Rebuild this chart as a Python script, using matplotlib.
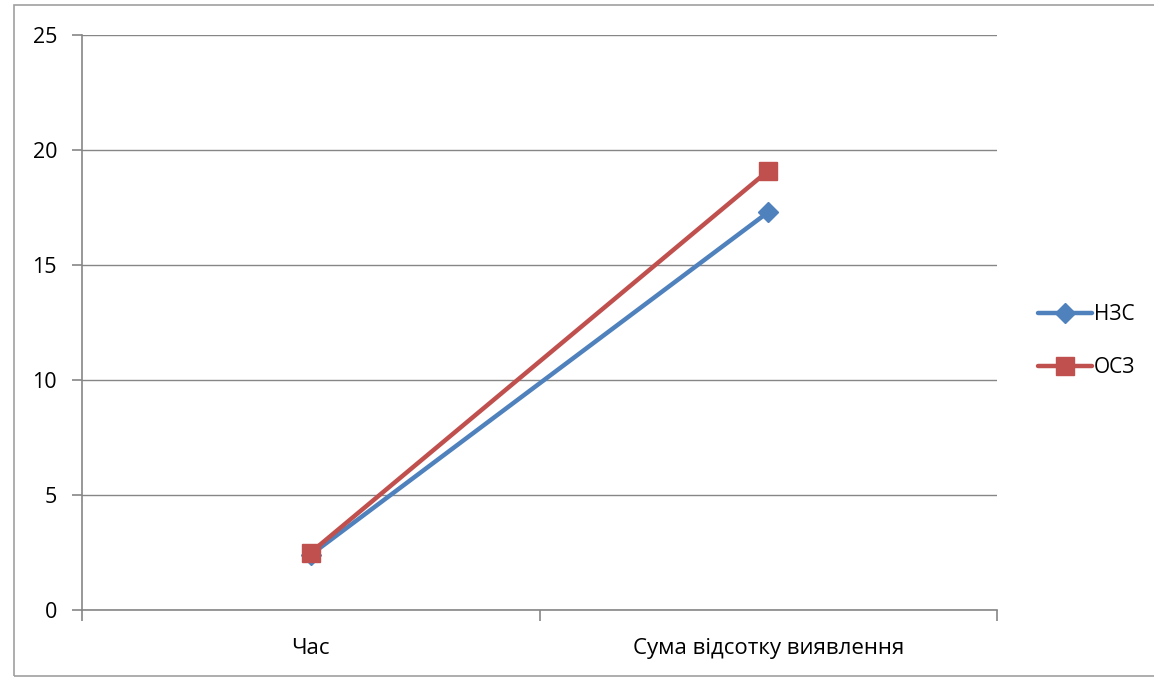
import matplotlib
matplotlib.use('Agg')
import matplotlib.pyplot as plt
from matplotlib.patches import Rectangle

plt.rcParams['font.family'] = ['Open Sans', 'DejaVu Sans']

categories = ['Час', 'Сума відсотку виявлення']
nzs = [2.4, 17.3]
osz = [2.5, 19.1]
series_names = ['НЗС', 'ОСЗ']
y_ticks = [0, 5, 10, 15, 20, 25]

blue = '#4F81BD'
red = '#C0504D'
grid_c = '#868686'

W, H = 1154, 677
fig = plt.figure(figsize=(W / 100, H / 100), dpi=100)
ax = fig.add_axes([82 / W, 1 - 610 / H, (997 - 82) / W, (610 - 35) / H])

x = [0.5, 1.5]
ax.plot(x, nzs, color=blue, lw=3.2, marker='D', ms=10, mfc=blue, mec=blue,
        label=series_names[0], solid_capstyle='round')
ax.plot(x, osz, color=red, lw=3.2, marker='s', ms=13.5, mfc=red, mec=red,
        label=series_names[1], solid_capstyle='round')

ax.set_xlim(0, 2)
ax.set_ylim(0, 25)
ax.set_yticks(y_ticks)
ax.set_xticks(x)
ax.set_xticklabels(categories)
ax.set_xticks([0, 1, 2], minor=True)
ax.yaxis.grid(True, color=grid_c, lw=1)
ax.set_axisbelow(True)
for s in ['top', 'right']:
    ax.spines[s].set_visible(False)
for s in ['left', 'bottom']:
    ax.spines[s].set_color(grid_c)
    ax.spines[s].set_linewidth(1.2)
ax.tick_params(axis='y', length=7, width=1.2, color=grid_c, labelsize=15.5, pad=11)
ax.tick_params(axis='x', which='major', length=0, labelsize=16, pad=20)
ax.tick_params(axis='x', which='minor', length=8, width=1.2, color=grid_c)

ax.legend(loc='center left', bbox_to_anchor=(1019 / W, 1 - 341 / H),
          bbox_transform=fig.transFigure, frameon=False, fontsize=15,
          handlelength=2.6, handletextpad=0.1, labelspacing=1.55)

fig.add_artist(Rectangle((14 / W, 1 / H), (W + 20) / W, (H - 6) / H,
                         transform=fig.transFigure, fill=False,
                         edgecolor='#A0A0A0', lw=1.2, clip_on=False))

fig.savefig('out.png', dpi=100)
